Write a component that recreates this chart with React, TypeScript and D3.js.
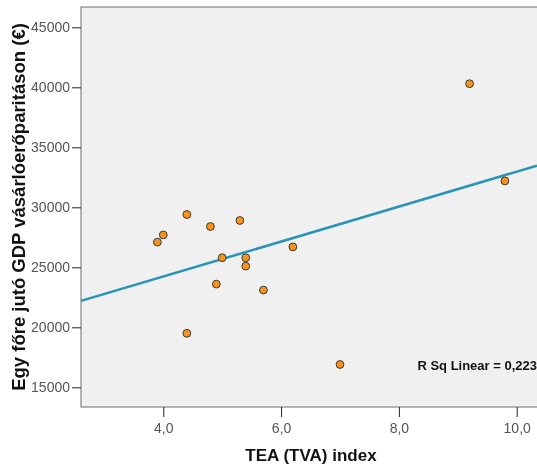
import React, { useEffect, useRef } from 'react';
import * as d3 from 'd3';

// TEA (TVA) index per country
const tea = [4.4, 4.8, 5.3, 4.0, 3.9, 5.0, 5.4, 5.4, 6.2, 4.9, 5.7, 4.4, 9.2, 9.8, 7.0];
// GDP per capita at purchasing power parity (€)
const gdp = [29400, 28400, 28900, 27700, 27100, 25800, 25800, 25100, 26700, 23600, 23100, 19500, 40300, 32200, 16900];

const xTicks = [4, 6, 8, 10];
const yTicks = [15000, 20000, 25000, 30000, 35000, 40000, 45000];

const xTitle = 'TEA (TVA) index';
const yTitle = 'Egy főre jutó GDP vásárlóerőparitáson (€)';

function Scatter() {
  const ref = useRef(null);

  useEffect(() => {
    const svg = d3.select(ref.current);
    svg.selectAll('*').remove();

    const width = 537;
    const height = 466;
    const plot = { left: 81, top: 7, right: 541, bottom: 407 };
    const font = '"Liberation Sans", Arial, sans-serif';

    const x = d3.scaleLinear().domain([4, 10]).range([163.3, 516.7]);
    const y = d3.scaleLinear().domain([15000, 45000]).range([387.3, 27.3]);

    svg.attr('width', width).attr('height', height).style('display', 'block');

    svg
      .append('rect')
      .attr('x', plot.left)
      .attr('y', plot.top)
      .attr('width', plot.right - plot.left)
      .attr('height', plot.bottom - plot.top)
      .attr('fill', '#f0f0f0')
      .attr('stroke', '#6e6e6e')
      .attr('stroke-width', 1);

    // y axis
    const yAxis = svg
      .append('g')
      .attr('transform', `translate(${plot.left},0)`)
      .call(d3.axisLeft(y).tickValues(yTicks).tickFormat(d3.format('d')).tickSize(9).tickPadding(2));
    yAxis.select('.domain').remove();
    yAxis.selectAll('line').attr('stroke', '#222');
    yAxis.selectAll('text').attr('fill', '#555').style('font', `14px ${font}`);

    // x axis
    const xAxis = svg
      .append('g')
      .attr('transform', `translate(0,${plot.bottom})`)
      .call(
        d3
          .axisBottom(x)
          .tickValues(xTicks)
          .tickFormat((d) => d3.format('.1f')(d).replace('.', ','))
          .tickSize(10)
          .tickPadding(6)
      );
    xAxis.select('.domain').remove();
    xAxis.selectAll('line').attr('stroke', '#222');
    xAxis.selectAll('text').attr('fill', '#555').style('font', `14px ${font}`);

    // linear fit
    const mx = d3.mean(tea);
    const my = d3.mean(gdp);
    let sxy = 0;
    let sxx = 0;
    let syy = 0;
    tea.forEach((v, i) => {
      sxy += (v - mx) * (gdp[i] - my);
      sxx += (v - mx) * (v - mx);
      syy += (gdp[i] - my) * (gdp[i] - my);
    });
    const slope = sxy / sxx;
    const icpt = my - slope * mx;
    const r2 = (sxy * sxy) / (sxx * syy);

    const x0 = x.invert(plot.left);
    const x1 = x.invert(width);
    svg
      .append('line')
      .attr('x1', x(x0))
      .attr('y1', y(icpt + slope * x0))
      .attr('x2', x(x1))
      .attr('y2', y(icpt + slope * x1))
      .attr('stroke', '#2a93b8')
      .attr('stroke-width', 2.5);

    svg
      .append('g')
      .selectAll('circle')
      .data(tea)
      .join('circle')
      .attr('cx', (d) => x(d))
      .attr('cy', (d, i) => y(gdp[i]))
      .attr('r', 3.9)
      .attr('fill', '#f7941d')
      .attr('stroke', '#3a3a3a')
      .attr('stroke-width', 1);

    svg
      .append('text')
      .attr('x', 537)
      .attr('y', 370)
      .attr('text-anchor', 'end')
      .attr('fill', '#111')
      .style('font', `bold 13px ${font}`)
      .text('R Sq Linear = ' + d3.format('.3f')(r2).replace('.', ','));

    svg
      .append('text')
      .attr('x', (plot.left + plot.right) / 2)
      .attr('y', 461)
      .attr('text-anchor', 'middle')
      .attr('fill', '#111')
      .style('font', `bold 17px ${font}`)
      .text(xTitle);

    svg
      .append('text')
      .attr('transform', `translate(25,${(plot.top + plot.bottom) / 2}) rotate(-90)`)
      .attr('text-anchor', 'middle')
      .attr('fill', '#111')
      .style('font', `bold 18.5px ${font}`)
      .text(yTitle);
  }, []);

  return <svg ref={ref}></svg>;
}

export default function App() {
  return (
    <div style={{ position: 'fixed', left: 0, top: 0 }}>
      <Scatter />
    </div>
  );
}
